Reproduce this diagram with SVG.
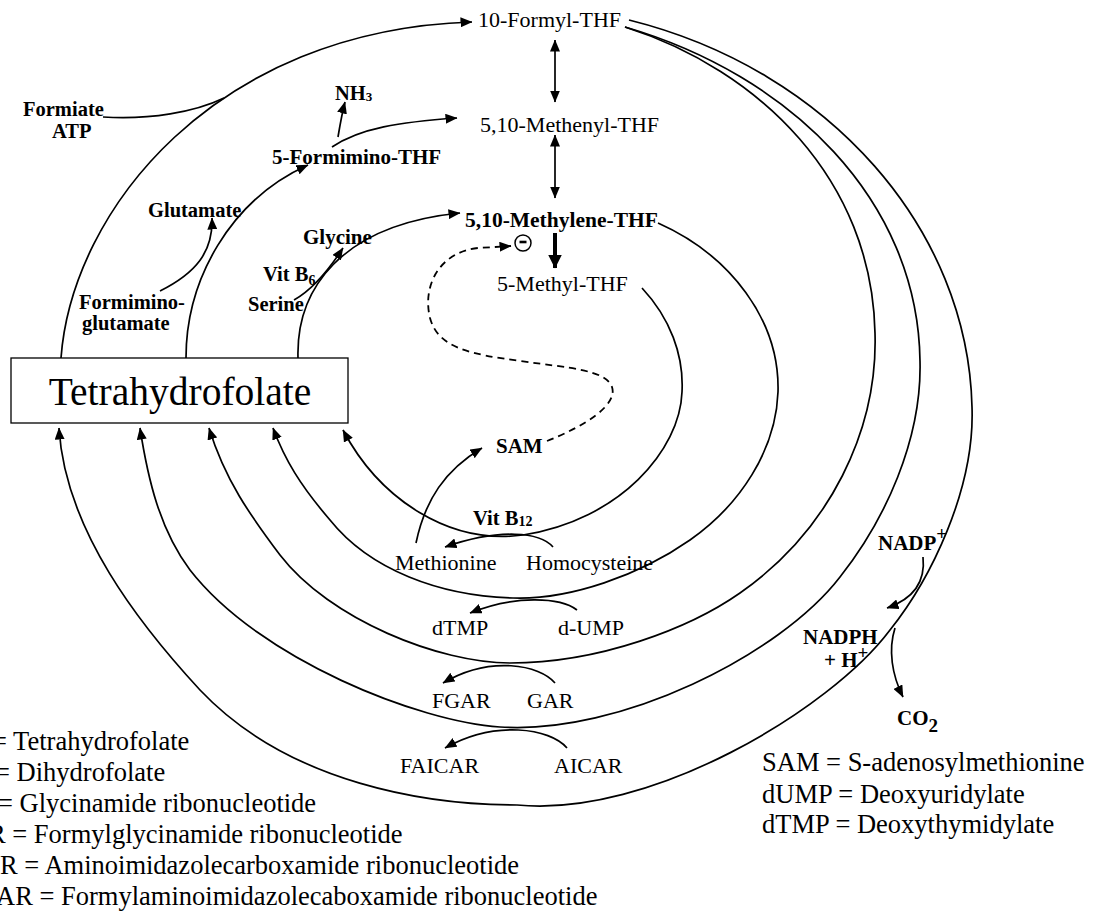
<svg xmlns="http://www.w3.org/2000/svg" width="1097" height="915" viewBox="0 0 1097 915">
<defs>
<marker id="ah" viewBox="0 0 12 10" refX="11.5" refY="5" markerWidth="12" markerHeight="10" markerUnits="userSpaceOnUse" orient="auto-start-reverse"><path d="M0,0 L12,5 L0,10 z" fill="#000"/></marker>
<marker id="ahBig" viewBox="0 0 14 14" refX="13.5" refY="7" markerWidth="14" markerHeight="14" markerUnits="userSpaceOnUse" orient="auto"><path d="M0,0 L14,7 L0,14 z" fill="#000"/></marker>
</defs>
<style>
text{font-family:"Liberation Serif","Times New Roman",serif;fill:#000}
.t{font-size:22px}
.b{font-size:20.5px;font-weight:bold}
.lg{font-size:26.5px}
.c{fill:none;stroke:#000;stroke-width:1.7}
.a{marker-end:url(#ah)}
.d{marker-start:url(#ah);marker-end:url(#ah)}
</style>
<rect width="1097" height="915" fill="#fff"/>

<g id="connectors">
  <!-- THF to 10-Formyl-THF -->
  <path class="c a" d="M61,358 C72,210 215,30 472,22"/>
  <path class="c" d="M103,117 C150,120 195,112 224,98"/>
  <!-- THF to 5-Formimino-THF -->
  <path class="c a" d="M186,358 C186,280 230,200 308,165"/>
  <path class="c a" d="M160,291 C196,273 213,252 212,218"/>
  <path class="c a" d="M338,137 C340,125 342,113 345,102"/>
  <path class="c a" d="M332,147 C360,128 400,122 457,118"/>
  <!-- THF to 5,10-Methylene-THF -->
  <path class="c a" d="M298,358 C296,290 340,225 460,213"/>
  <path class="c a" d="M294,300 C312,290 330,268 343,248"/>
  <!-- interconversions -->
  <path class="c d" d="M555,40 L555,102"/>
  <path class="c d" d="M555,135 L555,198"/>
  <path d="M555,233 L555,268" fill="none" stroke="#000" stroke-width="4" marker-end="url(#ahBig)"/>
  <!-- SAM inhibition -->
  <path d="M547,441 C585,426 618,405 612,387 C606,370 570,368 520,361 C470,354 438,348 430,318 C422,285 440,252 478,248 L511,246" fill="none" stroke="#000" stroke-width="1.8" stroke-dasharray="7 5" marker-end="url(#ah)"/>
  <!-- 5-Methyl-THF loop -->
  <path class="c a" d="M642,288 C670,318 684,355 682,392 C680,450 620,520 523,535 C450,545 380,500 343,430"/>
  <path class="c a" d="M553,547 C540,532 500,528 445,547"/>
  <path class="c a" d="M416,543 C425,500 445,470 482,448"/>
  <!-- 5,10-Methylene-THF loop -->
  <path class="c a" d="M658,223 C730,255 780,320 778,392 C776,450 740,505 690,540 C640,575 570,600 513,598 C440,596 370,570 330,520 C300,485 285,460 273,428"/>
  <path class="c a" d="M577,610 C560,597 515,595 470,613"/>
  <!-- 10-Formyl-THF inner loop -->
  <path class="c a" d="M625,27 C760,70 872,180 875,333 C878,430 830,530 740,593 C690,628 600,663 510,663 C440,663 330,620 280,555 C250,515 225,480 209,428"/>
  <path class="c a" d="M555,683 C540,665 490,655 443,683"/>
  <!-- 10-Formyl-THF middle loop -->
  <path class="c a" d="M625,27 C790,75 918,200 920,361 C922,440 885,520 840,577 C780,655 620,735 500,727 C420,722 260,660 190,570 C160,530 148,480 140,428"/>
  <path class="c a" d="M567,748 C550,728 495,720 445,748"/>
  <!-- 10-Formyl-THF outer loop -->
  <path class="c a" d="M629,20 C830,70 968,230 972,407 C975,490 930,580 890,630 C830,710 650,818 517,805 C430,805 290,785 200,690 C140,625 65,530 59,428"/>
  <path class="c a" d="M923,557 C926,585 910,600 887,608"/>
  <path class="c a" d="M895,628 C888,650 892,675 903,697"/>
</g>

<g id="thf">
  <rect x="11" y="358" width="337" height="65" fill="#fff" stroke="#000" stroke-width="1.3"/>
  <text x="180" y="405" text-anchor="middle" style="font-size:39.5px">Tetrahydrofolate</text>
</g>
<g id="formyl-thf"><text class="t" x="478" y="27">10-Formyl-THF</text></g>
<g id="methenyl-thf"><text class="t" x="480" y="132">5,10-Methenyl-THF</text></g>
<g id="methylene-thf"><text class="b" x="465" y="227" style="font-size:21.5px">5,10-Methylene-THF</text></g>
<g id="methyl-thf"><text class="t" x="497" y="291">5-Methyl-THF</text></g>
<g id="inhibit">
  <circle cx="523" cy="243" r="8" fill="none" stroke="#000" stroke-width="1.5"/>
  <line x1="519.5" y1="242" x2="526.5" y2="242" stroke="#000" stroke-width="2.6"/>
</g>
<g id="nh3"><text class="b" x="335" y="100">NH<tspan style="font-size:13px" dy="1">3</tspan></text></g>
<g id="formimino-thf"><text class="b" x="272" y="164" style="font-size:21px">5-Formimino-THF</text></g>
<g id="formiate">
  <text class="b" x="23" y="116">Formiate</text>
  <text class="b" x="52" y="138">ATP</text>
</g>
<g id="glutamate"><text class="b" x="148" y="217">Glutamate</text></g>
<g id="formiminoglutamate">
  <text class="b" x="79" y="309">Formimino-</text>
  <text class="b" x="82" y="330">glutamate</text>
</g>
<g id="glycine"><text class="b" x="303" y="244" style="font-size:21px">Glycine</text></g>
<g id="vitb6"><text class="b" x="263" y="281">Vit B<tspan style="font-size:14px" dy="4">6</tspan></text></g>
<g id="serine"><text class="b" x="248" y="311">Serine</text></g>
<g id="sam"><text class="b" x="496" y="453" style="font-size:21px">SAM</text></g>
<g id="vitb12"><text class="b" x="473" y="525">Vit B<tspan style="font-size:14px" dy="1">12</tspan></text></g>
<g id="methionine"><text class="t" x="395" y="570">Methionine</text></g>
<g id="homocysteine"><text class="t" x="526" y="570">Homocysteine</text></g>
<g id="dtmp"><text class="t" x="432" y="635">dTMP</text></g>
<g id="dump"><text class="t" x="558" y="635">d-UMP</text></g>
<g id="fgar"><text class="t" x="432" y="708">FGAR</text></g>
<g id="gar"><text class="t" x="527" y="708">GAR</text></g>
<g id="faicar"><text class="t" x="400" y="773">FAICAR</text></g>
<g id="aicar"><text class="t" x="554" y="773">AICAR</text></g>
<g id="nadp"><text class="b" x="878" y="550" style="font-size:21px">NADP<tspan style="font-size:19px" dy="-10">+</tspan></text></g>
<g id="nadph">
  <text class="b" x="803" y="644" style="font-size:21px">NADPH</text>
  <text class="b" x="824" y="667" style="font-size:21px">+ H<tspan style="font-size:19px" dy="-8">+</tspan></text>
</g>
<g id="co2"><text class="b" x="897" y="725" style="font-size:21px">CO<tspan style="font-size:19px" dy="7">2</tspan></text></g>

<g id="legend-right">
  <text class="lg" x="762" y="771">SAM = S-adenosylmethionine</text>
  <text class="lg" x="762" y="803">dUMP = Deoxyuridylate</text>
  <text class="lg" x="762" y="833">dTMP = Deoxythymidylate</text>
</g>
<g id="legend-left">
  <text class="lg" x="-8" y="750">= Tetrahydrofolate</text>
  <text class="lg" x="-5" y="781">= Dihydrofolate</text>
  <text class="lg" x="-2" y="812">= Glycinamide ribonucleotide</text>
  <text class="lg" x="-12" y="843">R = Formylglycinamide ribonucleotide</text>
  <text class="lg" x="0" y="874">R = Aminoimidazolecarboxamide ribonucleotide</text>
  <text class="lg" x="-4" y="905">AR = Formylaminoimidazolecaboxamide ribonucleotide</text>
</g>
</svg>
